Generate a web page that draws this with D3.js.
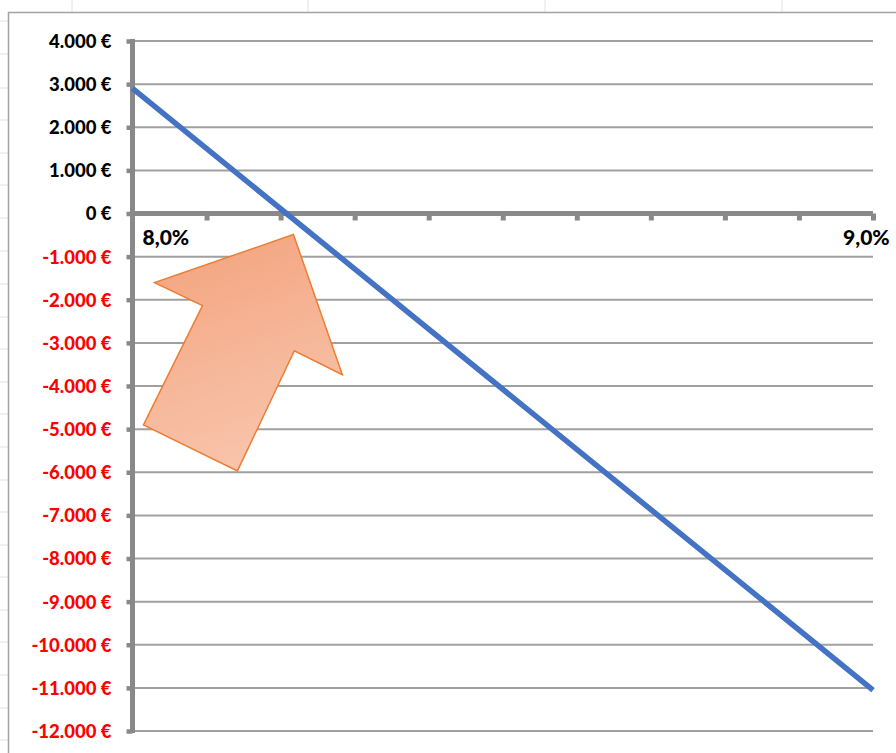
<!DOCTYPE html>
<html><head><meta charset="utf-8">
<script src="https://cdn.jsdelivr.net/npm/d3@7"></script>
<style>
html,body{margin:0;padding:0;background:#fff;}
svg{display:block;}
text{font-family:Lato,"Open Sans",sans-serif;font-weight:900;}
</style></head>
<body>
<svg id="c" width="896" height="753"></svg>
<script>
// Data
const rates = [8.0, 9.0];                 // interest rate (%)
const values = [2900, -11050];            // result (€)
const yTicks = [4000,3000,2000,1000,0,-1000,-2000,-3000,-4000,-5000,-6000,-7000,-8000,-9000,-10000,-11000,-12000];
const xTicks = [8.0,8.1,8.2,8.3,8.4,8.5,8.6,8.7,8.8,8.9,9.0];
const xLabels = ["8,0%","9,0%"];
// annotation arrow outline, in data units (rate, €)
const arrowRates = [8.2173, 8.2834, 8.2186, 8.1417, 8.0148, 8.0945, 8.0297];
const arrowValues = [-488, -3739, -3182, -5969, -4900, -2137, -1602];

const svg = d3.select("#c");
const x = d3.scaleLinear().domain([8.0, 9.0]).range([132.5, 873]);
const y = d3.scaleLinear().domain([4000, -12000]).range([41, 731]);

// Excel sheet background gridlines
const bg = svg.append("g");
[21,54,88,120,153,185,218,251,284,317,349,382,414,447,480,512,545,577,610,642,675,708,740].forEach(v=>{
  bg.append("line").attr("x1",0).attr("x2",8).attr("y1",v).attr("y2",v).attr("stroke","#e2e2e2").attr("stroke-width",1);
});
[72,308,545,782].forEach(v=>{
  bg.append("line").attr("x1",v).attr("x2",v).attr("y1",0).attr("y2",12).attr("stroke","#e2e2e2").attr("stroke-width",1);
});
// chart area border
svg.append("path").attr("d","M8.5,753 V12.5 H896").attr("fill","none").attr("stroke","#a3a3a3").attr("stroke-width",1.5);

// gridlines
svg.append("g").selectAll("line").data(yTicks).join("line")
  .attr("x1", x(8.0)).attr("x2", x(9.0))
  .attr("y1", d=>y(d)).attr("y2", d=>y(d))
  .attr("stroke","#a0a0a0").attr("stroke-width",2);

// y axis
const fmt = d => (d < 0 ? "-" : "") + d3.format(",")(Math.abs(d)).replace(/,/g,".") + " €";
const yAxis = d3.axisLeft(y).tickValues(yTicks).tickSize(5).tickPadding(16).tickFormat(fmt);
const gy = svg.append("g").attr("transform",`translate(${x(8.0)},0)`).call(yAxis);
gy.select(".domain").attr("stroke","#898989").attr("stroke-width",5).attr("d",`M0,${y(4000)-2}V${y(-12000)+2}`);
gy.selectAll(".tick line").attr("stroke","#898989").attr("stroke-width",4.5).attr("x2",-6);
gy.selectAll(".tick text").attr("font-size",18.5).attr("font-family","Lato, sans-serif").attr("font-weight",900)
  .attr("fill", d => d < 0 ? "#ff0000" : "#000000").attr("dy","0.35em");

// x axis at 0
const xAxis = d3.axisBottom(x).tickValues(xTicks).tickSize(6).tickFormat("");
const gx = svg.append("g").attr("transform",`translate(0,${y(0)})`).call(xAxis);
gx.select(".domain").attr("stroke","#898989").attr("stroke-width",5).attr("d",`M${x(8.0)-2},0H${x(9.0)}`);
gx.selectAll(".tick line").attr("stroke","#898989").attr("stroke-width",5).attr("y1",0).attr("y2",7);
gx.selectAll(".tick").filter(d=>d===8.0).remove();

// x labels
svg.append("text").attr("x", x(8.0)+10).attr("y", y(0)+31).attr("font-size",21).attr("fill","#000").text(xLabels[0]);
svg.append("text").attr("x", x(9.0)-30).attr("y", y(0)+31).attr("font-size",21).attr("fill","#000").text(xLabels[1]);

// line
const pts = rates.map((r,i)=>[r, values[i]]);
svg.append("path").datum(pts)
  .attr("d", d3.line().x(d=>x(d[0])).y(d=>y(d[1])))
  .attr("fill","none").attr("stroke","#4472c4").attr("stroke-width",5.5);

// arrow annotation
const defs = svg.append("defs");
const grad = defs.append("linearGradient").attr("id","ag").attr("x1","0").attr("y1","0").attr("x2","0.3").attr("y2","1");
grad.append("stop").attr("offset","0").attr("stop-color","#f3a27c");
grad.append("stop").attr("offset","1").attr("stop-color","#f8c3aa");
const arrowPts = arrowRates.map((r,i)=>[x(r), y(arrowValues[i])]);
svg.append("polygon").attr("points", arrowPts.map(p=>p.join(",")).join(" "))
  .attr("fill","url(#ag)").attr("stroke","#ed7d31").attr("stroke-width",1.5).attr("stroke-linejoin","miter");
</script>
</body></html>
